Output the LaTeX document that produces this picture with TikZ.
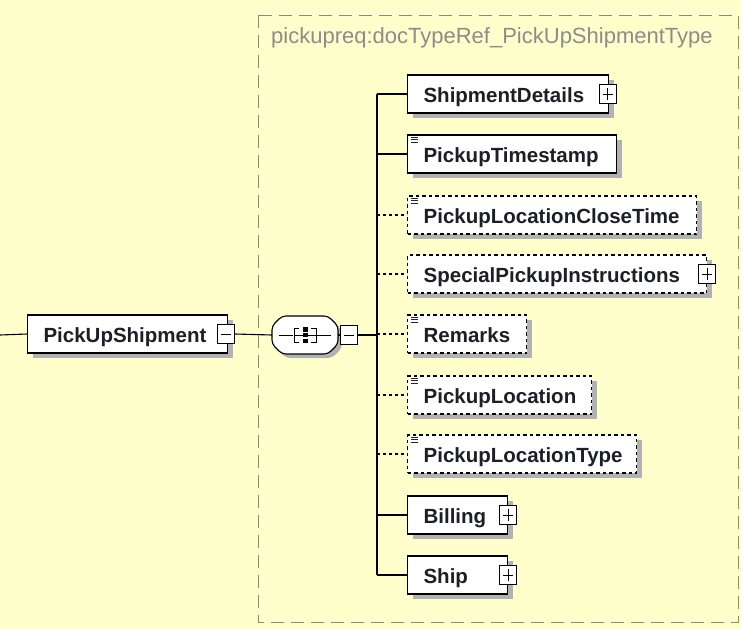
\documentclass[tikz,border=0pt]{standalone}
\usepackage{fontspec}
\setmainfont{Liberation Sans}
\usetikzlibrary{calc,shadows}
\definecolor{bg}{HTML}{FFFFCC}
\definecolor{txt}{HTML}{1E1E28}
\definecolor{ttl}{HTML}{8C8C8C}
\definecolor{frame}{HTML}{8A8A7A}
\uchyph=0
\hyphenpenalty=10000
\begin{document}
\begin{tikzpicture}[x=1pt,y=-1pt,
  conn/.style={line width=1.1pt, draw=black},
  optconn/.style={conn, dash pattern=on 3pt off 3pt},
  elem/.style={draw=black, line width=1.1pt, fill=white, anchor=west,
    minimum height=38pt, inner xsep=16pt, inner ysep=0pt,
    text height=17pt, text depth=0pt, align=left,
    font=\bfseries\fontsize{20.5}{24}\selectfont, text=txt,
    drop shadow={shadow xshift=5pt, shadow yshift=-5pt, fill=black!30, opacity=1}},
  optelem/.style={elem, line width=1.3pt, dash pattern=on 3.5pt off 3pt},
  pm/.style={draw=black, fill=white, line width=0.8pt, minimum width=17pt,
    minimum height=19pt, inner sep=0pt},
  plusbox/.style={pm, path picture={\draw[line width=.8pt]
    ([xshift=-5pt]path picture bounding box.center) -- ([xshift=5pt]path picture bounding box.center)
    ([yshift=-6pt]path picture bounding box.center) -- ([yshift=6pt]path picture bounding box.center);}},
  minusbox/.style={pm, path picture={\draw[line width=.8pt]
    ([xshift=-5pt]path picture bounding box.center) -- ([xshift=5pt]path picture bounding box.center);}},
  simpleicon/.style={line width=1pt, draw=black!85}
]
% background
\fill[bg] (0,0) rectangle (741,629);
\useasboundingbox (0,0) rectangle (741,629);
% type frame
\draw[frame, line width=1pt, dash pattern=on 13pt off 7pt] (258,15) rectangle (738,622);
\node[anchor=base west, text=ttl, font=\fontsize{22}{26}\selectfont, inner sep=0pt] (title) at (271,43) {pickupreq:docTypeRef\_PickUpShipmentType};

% root element
\coordinate (in) at (0,335);
\node[elem, text width=168pt] (psh) at (27,334) {PickUpShipment};
\node[minusbox] (pshm) at ($(psh.east)+(-2,0)$) {};

% sequence compositor
\node[minimum width=66pt, minimum height=38pt, inner sep=0pt] (seq) at (305,335) {};
\fill[black!30, rounded corners=4pt] (286,320) -- (332,320) -- (342,330) -- (342,348) -- (332,358) -- (286,358) -- (276,348) -- (276,330) -- cycle;
\draw[line width=1.1pt, fill=white, rounded corners=4pt] (282,316) -- (328,316) -- (338,326) -- (338,344) -- (328,354) -- (282,354) -- (272,344) -- (272,326) -- cycle;
\draw[line width=0.9pt] (279,335) -- (293,335) (317,335) -- (331,335);
\draw[line width=1pt] (299,328) -- (294,328) -- (294,342) -- (299,342);
\draw[line width=1pt] (311,328) -- (316,328) -- (316,342) -- (311,342);
\draw[line width=0.9pt] (294,335) -- (316,335);
\fill (302.5,327) rectangle (307.5,331.5);
\fill (302.5,332.8) rectangle (307.5,337.3);
\fill (302.5,338.6) rectangle (307.5,343);
\node[minusbox] (seqm) at (348.5,335) {};

\coordinate (bus) at (377,335);

% children
\node[elem, text width=169pt] (sd) at (407,94) {ShipmentDetails};
\node[plusbox] (sdp) at ($(sd.east)+(-1.5,0)$) {};
\node[elem, text width=177pt] (pts) at (407,154) {PickupTimestamp};
\node[optelem, text width=257pt] (plct) at (407,215) {PickupLocationCloseTime};
\node[optelem, text width=267pt] (spi) at (407,274) {SpecialPickupInstructions};
\node[plusbox] (spip) at ($(spi.east)+(0,0)$) {};
\node[optelem, text width=87pt] (rem) at (407,334) {Remarks};
\node[optelem, text width=152pt] (pl) at (407,395) {PickupLocation};
\node[optelem, text width=197pt] (plt) at (407,454) {PickupLocationType};
\node[elem, text width=68pt] (bill) at (407,515) {Billing};
\node[plusbox] (billp) at ($(bill.east)+(0,0)$) {};
\node[elem, text width=68pt] (ship) at (407,575) {Ship};
\node[plusbox] (shipp) at ($(ship.east)+(0,0)$) {};

% simple-type icons
\foreach \n in {pts,plct,rem,pl,plt}{
  \draw[simpleicon] ($(\n.north west)+(4,3)$) -- ++(7,0);
  \draw[simpleicon] ($(\n.north west)+(4,5.5)$) -- ++(7,0);
  \draw[simpleicon] ($(\n.north west)+(4,8)$) -- ++(7,0);
}

% connectors
\draw[conn] (in) -- (psh.west);
\draw[conn] (pshm.east) -- (seq.west);
\draw[conn] (seq.east) -- (seqm.west);
\draw[conn] (seqm.east) -- (bus);
\draw[conn] (bus |- sd.west) -- (bus |- ship.west);
\draw[conn] (bus |- sd.west) -- (sd.west);
\draw[conn] (bus |- pts.west) -- (pts.west);
\draw[optconn] (bus |- plct.west) -- (plct.west);
\draw[optconn] (bus |- spi.west) -- (spi.west);
\draw[optconn] (bus |- rem.west) -- (rem.west);
\draw[optconn] (bus |- pl.west) -- (pl.west);
\draw[optconn] (bus |- plt.west) -- (plt.west);
\draw[conn] (bus |- bill.west) -- (bill.west);
\draw[conn] (bus |- ship.west) -- (ship.west);
\end{tikzpicture}
\end{document}
